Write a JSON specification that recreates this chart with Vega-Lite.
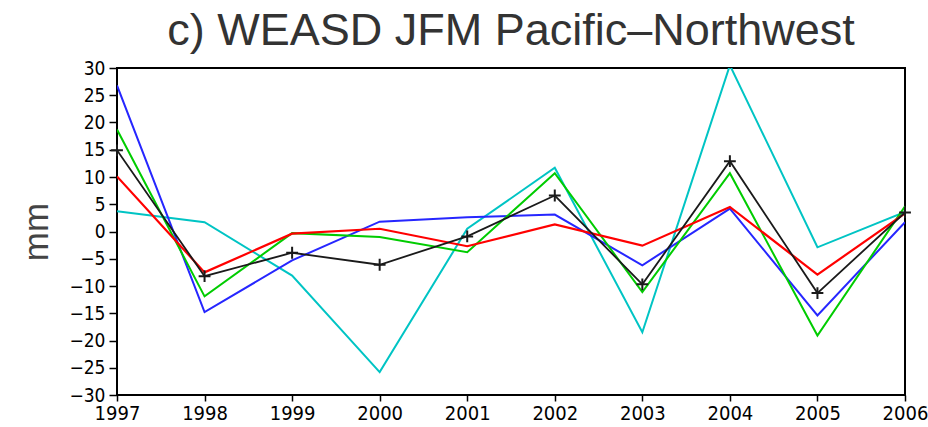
{
  "$schema": "https://vega.github.io/schema/vega-lite/v6.json",
  "width": 788,
  "height": 327,
  "autosize": "none",
  "padding": {"left": 117, "top": 68, "right": 23, "bottom": 32},
  "background": "white",
  "config": {
    "view": {"stroke": "black", "strokeWidth": 2},
    "axis": {"grid": false, "domain": false, "tickColor": "black", "tickWidth": 1.5, "labelColor": "black", "labelFont": "DejaVu Sans Condensed", "titleFont": "Liberation Sans", "titleFontWeight": "normal"}
  },
  "title": {
    "text": "c) WEASD JFM Pacific\u2013Northwest",
    "font": "Liberation Sans",
    "fontSize": 45,
    "fontWeight": "normal",
    "color": "#333",
    "anchor": "middle",
    "frame": "group",
    "baseline": "alphabetic",
    "offset": 21,
    "dy": 52
  },
  "data": {
    "values": [
      {"year": 1997, "series": "cyan", "value": 3.7},
      {"year": 1998, "series": "cyan", "value": 1.7},
      {"year": 1999, "series": "cyan", "value": -8.1},
      {"year": 2000, "series": "cyan", "value": -25.8},
      {"year": 2001, "series": "cyan", "value": 0.5},
      {"year": 2002, "series": "cyan", "value": 11.7},
      {"year": 2003, "series": "cyan", "value": -18.5},
      {"year": 2004, "series": "cyan", "value": 30.5},
      {"year": 2005, "series": "cyan", "value": -2.9},
      {"year": 2006, "series": "cyan", "value": 3.6},
      {"year": 1997, "series": "blue", "value": 26.8},
      {"year": 1998, "series": "blue", "value": -14.8},
      {"year": 1999, "series": "blue", "value": -5.3},
      {"year": 2000, "series": "blue", "value": 1.8},
      {"year": 2001, "series": "blue", "value": 2.6},
      {"year": 2002, "series": "blue", "value": 3.1},
      {"year": 2003, "series": "blue", "value": -6.2},
      {"year": 2004, "series": "blue", "value": 4.2},
      {"year": 2005, "series": "blue", "value": -15.4},
      {"year": 2006, "series": "blue", "value": 1.7},
      {"year": 1997, "series": "green", "value": 18.7},
      {"year": 1998, "series": "green", "value": -11.9},
      {"year": 1999, "series": "green", "value": -0.3},
      {"year": 2000, "series": "green", "value": -1.0},
      {"year": 2001, "series": "green", "value": -3.8},
      {"year": 2002, "series": "green", "value": 10.7},
      {"year": 2003, "series": "green", "value": -11.1},
      {"year": 2004, "series": "green", "value": 10.7},
      {"year": 2005, "series": "green", "value": -19.1},
      {"year": 2006, "series": "green", "value": 4.6},
      {"year": 1997, "series": "red", "value": 10.1},
      {"year": 1998, "series": "red", "value": -7.5},
      {"year": 1999, "series": "red", "value": -0.4},
      {"year": 2000, "series": "red", "value": 0.5},
      {"year": 2001, "series": "red", "value": -2.7},
      {"year": 2002, "series": "red", "value": 1.3},
      {"year": 2003, "series": "red", "value": -2.6},
      {"year": 2004, "series": "red", "value": 4.5},
      {"year": 2005, "series": "red", "value": -7.9},
      {"year": 2006, "series": "red", "value": 3.3},
      {"year": 1997, "series": "black", "value": 14.9},
      {"year": 1998, "series": "black", "value": -8.2},
      {"year": 1999, "series": "black", "value": -3.9},
      {"year": 2000, "series": "black", "value": -6.1},
      {"year": 2001, "series": "black", "value": -0.9},
      {"year": 2002, "series": "black", "value": 6.6},
      {"year": 2003, "series": "black", "value": -9.7},
      {"year": 2004, "series": "black", "value": 12.9},
      {"year": 2005, "series": "black", "value": -11.3},
      {"year": 2006, "series": "black", "value": 3.5}
    ]
  },
  "encoding": {
    "x": {
      "field": "year", "type": "quantitative",
      "scale": {"domain": [1997, 2006], "nice": false, "zero": false},
      "axis": {"title": null, "values": [1997,1998,1999,2000,2001,2002,2003,2004,2005,2006], "format": "d", "labelFontSize": 20, "tickSize": 6, "labelPadding": 2, "labelFlush": false, "labelOverlap": false}
    },
    "y": {
      "field": "value", "type": "quantitative",
      "scale": {"domain": [-30, 30], "nice": false, "zero": false},
      "axis": {"title": "mm", "titleFontSize": 35, "titleColor": "#444", "titlePadding": 14, "values": [-30,-25,-20,-15,-10,-5,0,5,10,15,20,25,30], "labelFontSize": 19, "tickSize": 8, "labelPadding": 4, "labelFlush": false, "labelOverlap": false}
    },
    "color": {
      "field": "series", "type": "nominal",
      "scale": {"domain": ["cyan", "blue", "green", "red", "black"], "range": ["#00c4c4", "#2626ff", "#00cc00", "#ff0000", "#1a1a1a"]},
      "legend": null
    }
  },
  "layer": [
    {"transform": [{"filter": "datum.series === 'cyan'"}], "mark": {"type": "line", "strokeWidth": 2, "clip": true}},
    {"transform": [{"filter": "datum.series === 'blue'"}], "mark": {"type": "line", "strokeWidth": 2, "clip": true}},
    {"transform": [{"filter": "datum.series === 'green'"}], "mark": {"type": "line", "strokeWidth": 2, "clip": true}},
    {"transform": [{"filter": "datum.series === 'red'"}], "mark": {"type": "line", "strokeWidth": 2.2, "clip": true}},
    {"transform": [{"filter": "datum.series === 'black'"}], "mark": {"type": "line", "strokeWidth": 1.8, "clip": true}},
    {"transform": [{"filter": "datum.series === 'black'"}], "mark": {"type": "point", "shape": "M-1,0L1,0M0,-1L0,1", "size": 140, "strokeWidth": 2, "filled": false, "opacity": 1}}
  ]
}
